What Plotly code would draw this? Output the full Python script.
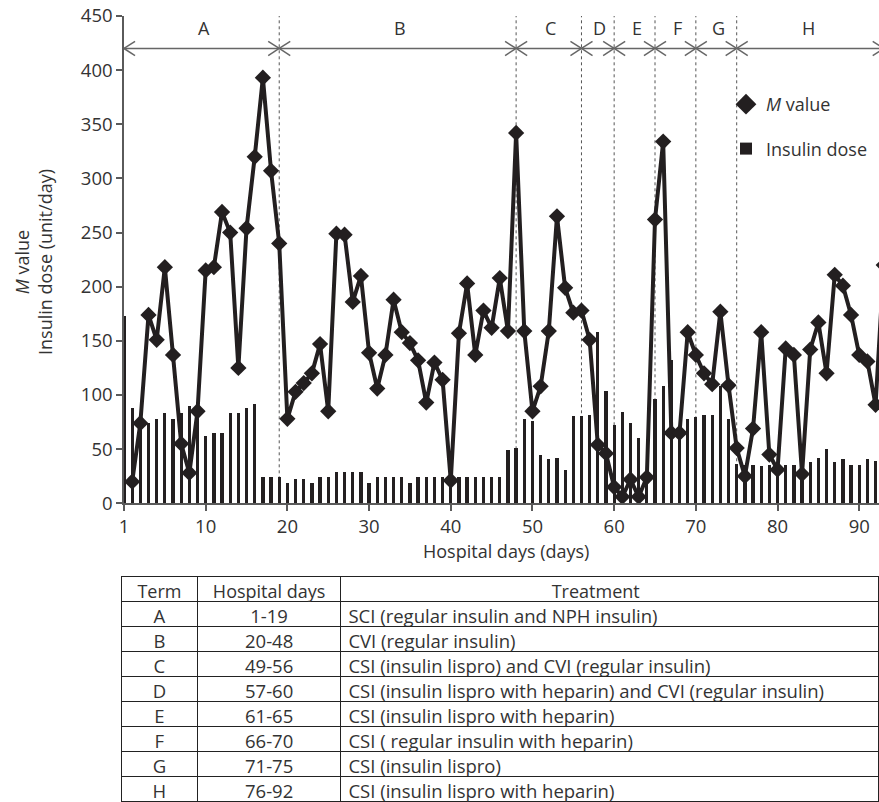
import plotly.graph_objects as go

# ---------------- data ----------------
bar_days = list(range(0, 93))
insulin_dose = [173, 88, 76, 74, 78, 83, 78, 83, 90, 83,
                62, 65, 65, 83, 83, 88, 92, 24, 24, 24,
                19, 22, 22, 19, 24, 24, 29, 29, 29, 29,
                19, 24, 24, 24, 24, 19, 24, 24, 24, 24,
                24, 24, 24, 24, 24, 24, 24, 49, 51, 78,
                76, 45, 41, 42, 31, 81, 81, 82, 158, 104,
                72, 84, 74, 60, 20, 96, 108, 132, 60, 78,
                80, 82, 82, 108, 78, 36, 35, 35, 34, 35,
                35, 35, 35, 30, 38, 42, 50, 38, 41, 35,
                35, 41, 39]

m_days = list(range(1, 94))
m_value = [20, 74, 174, 151, 218, 137, 55, 28, 85, 215,
           218, 269, 250, 125, 254, 320, 393, 307, 240, 78,
           103, 111, 120, 147, 85, 249, 248, 186, 210, 139,
           106, 137, 188, 158, 148, 132, 93, 130, 114, 21,
           157, 203, 137, 178, 162, 208, 159, 342, 159, 85,
           108, 159, 265, 199, 176, 178, 151, 54, 46, 15,
           6, 22, 6, 24, 262, 334, 65, 65, 158, 137,
           120, 110, 177, 109, 51, 25, 69, 158, 45, 31,
           143, 137, 27, 142, 167, 120, 211, 201, 174, 137,
           131, 91, 220]

terms = ["A", "B", "C", "D", "E", "F", "G", "H"]
term_start = [1, 20, 49, 57, 61, 66, 71, 76]
term_end = [19, 48, 56, 60, 65, 70, 75, 92]
term_days_text = ["1-19", "20-48", "49-56", "57-60", "61-65", "66-70", "71-75", "76-92"]
treatments = [
    "SCI (regular insulin and NPH insulin)",
    "CVI (regular insulin)",
    "CSI (insulin lispro) and CVI (regular insulin)",
    "CSI (insulin lispro with heparin) and CVI (regular insulin)",
    "CSI (insulin lispro with heparin)",
    "CSI ( regular insulin with heparin)",
    "CSI (insulin lispro)",
    "CSI (insulin lispro with heparin)",
]

x_tickvals = [0, 10, 20, 30, 40, 50, 60, 70, 80, 90]
x_ticktext = ["1", "10", "20", "30", "40", "50", "60", "70", "80", "90"]
y_tickvals = [0, 50, 100, 150, 200, 250, 300, 350, 400, 450]

# ---------------- styling ----------------
FONT = "Open Sans"
TXT = "#333333"
INK = "#231f20"
AXC = "#5a5a5a"
W, H = 879, 802

arrow_y = 420
label_y = 439
head_dx = 1.35
head_dy = 6.5

fig = go.Figure()

fig.add_trace(go.Bar(
    x=bar_days, y=insulin_dose, width=0.4,
    marker=dict(color=INK, line=dict(width=0)),
    name="Insulin dose", showlegend=True,
    legendgroup="b", legendrank=2,
))

fig.add_trace(go.Scatter(
    x=m_days, y=m_value, mode="lines+markers",
    line=dict(color=INK, width=4),
    marker=dict(symbol="diamond", size=12.5, color=INK),
    showlegend=False, cliponaxis=True,
))

# legend-only entry for M value (diamond only)
fig.add_trace(go.Scatter(
    x=[None], y=[None], mode="markers",
    marker=dict(symbol="diamond", size=16, color=INK),
    name="<i>M</i> value", legendgroup="a", legendrank=1,
))

shapes = []
bounds = term_end[:-1]
for b in bounds:
    shapes.append(dict(type="line", xref="x", yref="y", x0=b, x1=b, y0=0, y1=450,
                       line=dict(color="#555555", width=1, dash="dot"), layer="below"))

left_end = term_start[0] - 1
right_end = term_end[-1] + 1
shapes.append(dict(type="line", xref="x", yref="y", x0=left_end, x1=right_end,
                   y0=arrow_y, y1=arrow_y, line=dict(color="#666666", width=1.5)))
ends = [left_end] + bounds + [right_end]
for i, e in enumerate(ends):
    if i < len(ends) - 1:
        for s in (1, -1):
            shapes.append(dict(type="line", xref="x", yref="y", x0=e, y0=arrow_y,
                               x1=e + head_dx, y1=arrow_y + s * head_dy,
                               line=dict(color="#666666", width=1.5)))
    if i > 0:
        for s in (1, -1):
            shapes.append(dict(type="line", xref="x", yref="y", x0=e, y0=arrow_y,
                               x1=e - head_dx, y1=arrow_y + s * head_dy,
                               line=dict(color="#666666", width=1.5)))

annotations = []
for t, s, e in zip(terms, term_start, term_end):
    annotations.append(dict(x=(s + e) / 2 - 0.25, y=label_y, xref="x", yref="y",
                            text=t, showarrow=False,
                            font=dict(family=FONT, size=18, color=TXT)))

annotations.append(dict(x=33 / W, y=1 - 262 / H, xref="paper", yref="paper",
                        text="<i>M</i> value<br>Insulin dose (unit/day)", textangle=-90,
                        showarrow=False, xanchor="center", yanchor="middle",
                        font=dict(family=FONT, size=18, color=TXT)))
annotations.append(dict(x=506 / W, y=1 - 551 / H, xref="paper", yref="paper",
                        text="Hospital days (days)", showarrow=False,
                        xanchor="center", yanchor="middle",
                        font=dict(family=FONT, size=18, color=TXT)))

fig.add_trace(go.Table(
    domain=dict(x=[121 / W, 1.0], y=[0, 1 - 576 / H]),
    columnwidth=[77, 143, 540],
    header=dict(values=["Term", "Hospital days",
                        "Treatment" + "\u00a0" * 6],
                align=["center", "center", "center"],
                line=dict(color="#222222", width=1),
                fill=dict(color="white"),
                font=dict(family=FONT, size=18, color=TXT), height=25),
    cells=dict(values=[terms, term_days_text, treatments],
               align=["center", "center", "left"],
               line=dict(color="#222222", width=1),
               fill=dict(color="white"),
               font=dict(family=FONT, size=18.5, color=TXT), height=25),
))

fig.update_layout(
    width=W, height=H,
    margin=dict(l=0, r=0, t=0, b=0, autoexpand=False),
    paper_bgcolor="white", plot_bgcolor="white",
    showlegend=True,
    legend=dict(x=726 / W, y=1 - 86 / H, xanchor="left", yanchor="top",
                font=dict(family=FONT, size=18, color=TXT),
                bgcolor="rgba(0,0,0,0)", traceorder="grouped",
                tracegroupgap=18, itemwidth=30),
    xaxis=dict(domain=[124 / W, 1.0], range=[0, 92.42], automargin=False,
               tickvals=x_tickvals, ticktext=x_ticktext,
               showgrid=False, zeroline=False, showline=True,
               linecolor=AXC, linewidth=1.5, ticks="outside",
               tickcolor=AXC, ticklen=6, tickwidth=1.5,
               tickfont=dict(family=FONT, size=18.5, color=TXT)),
    yaxis=dict(domain=[(H - 503.3) / H, (H - 16) / H], range=[0, 450], automargin=False,
               tickvals=y_tickvals,
               showgrid=False, zeroline=False, showline=True,
               linecolor=AXC, linewidth=1.5, ticks="outside",
               tickcolor=AXC, ticklen=6, tickwidth=1.5,
               tickfont=dict(family=FONT, size=18.5, color=TXT)),
    shapes=shapes,
    annotations=annotations,
    bargap=0,
)

fig.write_html("out.html",
               config={"displayModeBar": False},
               post_script="document.body.style.margin='0px';document.body.style.overflow='hidden';")
